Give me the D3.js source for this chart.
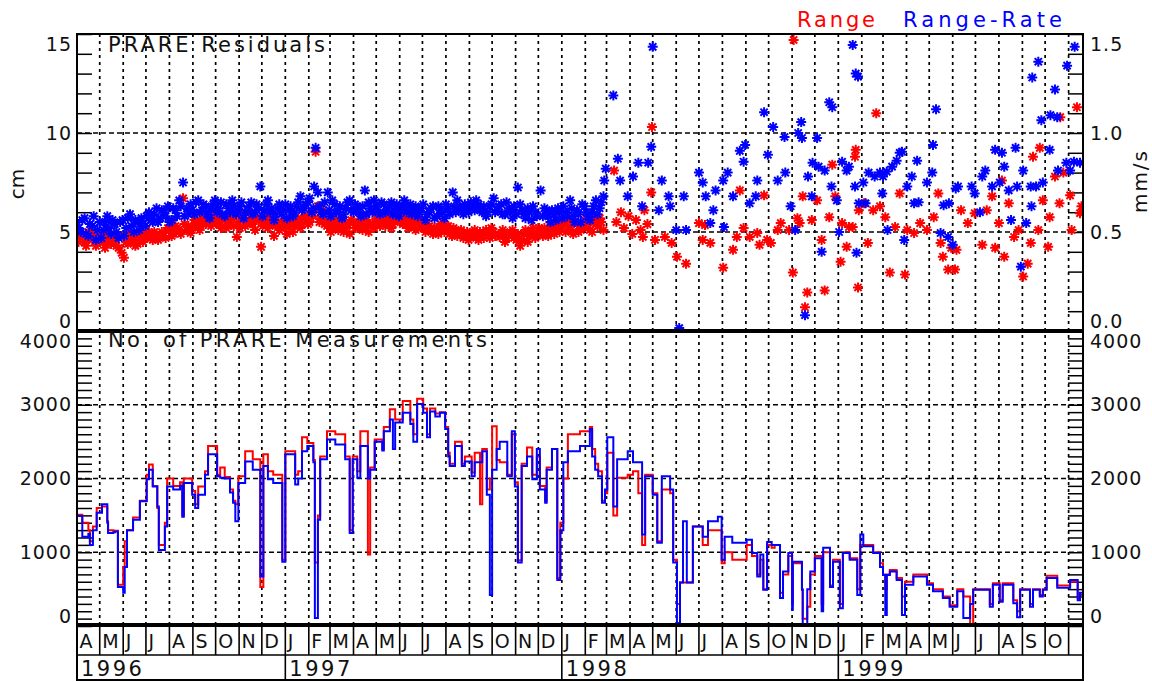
<!DOCTYPE html>
<html>
<head>
<meta charset="utf-8">
<script src="https://cdn.jsdelivr.net/npm/d3@7"></script>
<style>
  body { margin: 0; background: #fff; }
  text { font-family: "DejaVu Sans", sans-serif; fill: #111; }
</style>
</head>
<body>
<svg id="chart" width="1152" height="682"></svg>
<script>
// ---- time span and labels ----
const spanStart = Date.UTC(1996, 3, 1);
const spanEnd = Date.UTC(1999, 10, 20);
const monthLetters = ["J","F","M","A","M","J","J","A","S","O","N","D"];
const cmLabelTicks = [0, 5, 10, 15];
const rateLabelTicks = [0, 0.5, 1.0, 1.5];
const countLabelTicks = [0, 1000, 2000, 3000, 4000];
const cmGrid = [5, 10];
const countGrid = [1000, 2000, 3000];

// ---- residuals: [day since 1996-04-01, value] ----
// Range residuals, cm
const rangeResiduals = [
[0,4.7],[5,4.9],[10,4.5],[15,5.0],[20,4.6],[25,4.3],[30,4.8],[35,4.5],[40,4.9],[45,4.4],
[50,4.7],[55,4.2],[59,3.95],[62,3.7],[65,4.5],[70,4.9],[75,4.6],[80,4.4],[85,4.9],[90,4.7],
[95,5.0],[100,4.6],[105,4.9],[110,4.75],[115,4.8],[120,5.2],[125,4.8],[130,5.3],[135,5.0],[140,6.7],
[142,5.4],[145,5.1],[150,4.95],[155,5.6],[160,5.3],[165,5.7],[170,5.4],[175,5.9],[180,5.5],[185,5.8],
[190,5.2],[195,5.6],[200,5.3],[205,5.8],[211,4.75],[215,5.2],[220,5.7],[225,5.4],[230,5.9],[235,5.1],
[240,5.6],[243,4.25],[245,5.3],[250,5.7],[255,5.4],[260,4.8],[265,5.5],[270,5.2],[277,4.9],[280,5.3],
[285,5.0],[290,5.5],[295,5.2],[300,5.7],[305,5.4],[310,6.0],[315,9.05],[318,6.3],[320,5.5],[325,6.1],
[330,5.3],[335,5.0],[340,5.4],[345,5.1],[350,5.6],[355,5.2],[360,4.9],[365,5.5],[370,5.2],[375,5.6],
[380,5.3],[385,5.0],[390,5.4],[395,5.7],[400,5.3],[405,5.8],[410,5.5],[415,5.2],[420,5.6],[425,5.9],
[430,5.4],[435,5.7],[440,5.3],[445,5.6],[450,5.2],[455,5.5],[460,5.0],[465,5.3],[470,4.9],[475,5.2],
[480,5.4],[485,5.0],[490,5.3],[495,4.8],[500,5.1],[505,4.9],[510,4.7],[515,5.0],[520,4.8],[525,5.1],
[530,4.6],[535,4.9],[540,5.1],[545,4.7],[550,5.0],[558,4.75],[560,4.9],[565,4.5],[570,4.8],[575,5.1],
[580,4.6],[585,4.3],[590,4.9],[595,4.5],[600,5.0],[605,4.7],[610,5.2],[615,4.8],[620,5.0],[625,5.3],
[630,4.9],[635,5.2],[640,5.5],[645,5.0],[650,5.3],[655,4.9],[660,5.4],[665,5.1],[670,5.6],[675,5.2],
[680,5.0],[685,5.4],[690,5.7],[695,5.1],
[2,4.5],[7,4.8],[12,4.3],[17,4.7],[22,4.9],[27,4.5],[32,4.6],[37,4.2],[42,4.7],[47,4.5],
[52,4.3],[57,4.8],[67,4.4],[72,4.7],[77,4.3],[82,4.8],[87,4.5],[92,4.9],[97,4.7],[102,5.0],
[107,4.6],[112,5.0],[117,4.7],[122,5.1],[127,4.9],[132,5.2],[137,4.9],[147,5.3],[152,5.2],[157,5.5],
[162,5.1],[167,5.4],[172,5.6],[177,5.3],[182,5.7],[187,5.4],[192,5.7],[197,5.2],[202,5.6],[207,5.3],
[213,5.5],[217,5.8],[222,5.3],[227,5.6],[232,5.4],[237,5.7],[247,5.5],[252,5.2],[257,5.6],[262,5.3],
[267,5.1],[272,5.5],[275,5.3],[282,5.6],[287,5.3],[292,5.7],[297,5.4],[302,5.8],[307,5.5],[312,5.8],
[322,5.7],[327,5.4],[332,5.6],[337,5.2],[342,5.6],[347,5.3],[352,5.0],[357,5.4],[362,5.6],[367,5.2],
[372,5.5],[377,5.1],[382,5.6],[387,5.4],[392,5.2],[397,5.5],[402,5.6],[407,5.3],[412,5.7],[417,5.4],
[422,5.8],[427,5.5],[432,5.6],[437,5.2],[442,5.5],[447,5.1],[452,5.4],[457,5.2],[462,5.4],[467,5.1],
[472,5.2],[477,4.9],[482,5.1],[487,5.3],[492,4.9],[497,5.2],[502,4.8],[507,5.1],[512,4.9],[517,4.6],
[522,5.0],[527,4.7],[532,5.0],[537,4.7],[542,4.9],[547,5.2],[552,4.8],[562,5.1],[567,4.7],[572,5.0],
[577,4.7],[582,4.9],[587,4.6],[592,5.1],[597,4.8],[602,5.2],[607,4.9],[612,5.0],[617,5.2],[622,4.8],
[627,5.1],[632,5.4],[637,5.0],[642,5.3],[647,5.6],[652,5.1],[657,5.5],[662,5.0],[667,5.3],[672,5.5],
[677,5.1],[682,5.6],[687,5.3],[692,5.5],
[709,8.1],[712,5.5],[718,6.0],[722,5.2],[728,5.8],[733,4.9],[738,5.6],[744,5.1],[747,4.75],[749,6.1],
[753,5.4],[758,7.0],[759,10.3],[763,4.6],[776,4.75],[785,4.45],[792,3.75],[804,3.4],[821,5.45],[826,4.6],
[829,5.35],[836,4.45],[853,3.2],[866,4.1],[871,4.75],[875,7.1],[880,5.2],[888,4.75],[898,4.95],[901,4.35],
[907,6.85],[911,4.6],[916,4.45],[925,5.1],[929,5.45],[940,5.1],[945,2.95],[946,14.7],[951,5.7],[954,5.45],
[958,6.8],[961,1.2],[964,1.95],[970,5.6],[977,6.6],[983,4.6],[987,2.05],[993,5.75],[997,8.4],[1001,6.8],
[1008,3.5],[1010,5.45],[1016,4.25],[1019,5.25],[1024,5.25],[1027,8.8],[1028,9.15],[1031,2.2],[1032,6.1],[1039,6.45],
[1044,4.45],[1051,6.1],[1055,11.0],[1060,6.3],[1067,5.75],[1073,2.95],[1080,5.25],[1086,6.95],[1093,2.85],[1096,5.1],
[1105,4.95],[1113,5.45],[1122,5.1],[1131,5.75],[1137,6.95],[1140,4.45],[1143,3.75],[1150,3.1],[1154,4.2],[1159,3.1],
[1161,4.1],[1167,6.1],[1176,5.45],[1185,5.95],[1195,4.35],[1201,6.1],[1208,6.8],[1212,4.2],[1217,5.45],[1221,7.6],
[1224,3.75],[1230,6.45],[1237,4.75],[1243,5.1],[1249,2.75],[1255,3.4],[1259,4.45],[1262,8.8],[1269,5.1],[1271,9.25],
[1275,6.6],[1282,4.25],[1284,5.75],[1291,7.8],[1297,6.45],[1298,10.8],[1302,8.0],[1311,6.85],[1313,5.1],[1320,11.3],
[1324,5.95],[1326,6.3]
];

// Range-rate residuals, mm/s
const rateResiduals = [
[0,.55],[5,.50],[10,.57],[15,.48],[20,.53],[25,.46],[30,.55],[35,.51],[40,.58],[45,.49],
[50,.54],[55,.47],[60,.56],[65,.52],[70,.59],[75,.50],[80,.55],[85,.57],[90,.53],[95,.60],
[100,.55],[105,.62],[110,.57],[115,.60],[120,.63],[125,.56],[130,.61],[135,.66],[140,.75],[142,.58],
[145,.62],[150,.64],[155,.59],[160,.66],[165,.61],[170,.63],[175,.57],[180,.64],[185,.60],[190,.65],
[195,.58],[200,.62],[205,.66],[210,.59],[215,.63],[220,.57],[225,.61],[230,.65],[235,.60],[240,.62],
[242,.73],[245,.58],[250,.64],[255,.60],[260,.56],[265,.62],[270,.59],[275,.64],[280,.61],[285,.58],
[290,.63],[295,.68],[300,.62],[305,.65],[310,.60],[313,.73],[315,.925],[318,.70],[320,.63],[325,.59],
[331,.70],[335,.58],[340,.64],[345,.60],[350,.57],[355,.62],[360,.66],[365,.60],[370,.63],[375,.58],
[380,.71],[385,.65],[390,.60],[395,.63],[400,.59],[405,.64],[410,.61],[415,.65],[420,.62],[425,.58],
[430,.63],[435,.60],[440,.64],[445,.61],[450,.58],[455,.62],[460,.56],[465,.60],[470,.63],[475,.58],
[480,.61],[485,.57],[490,.62],[496,.70],[500,.60],[505,.63],[510,.59],[515,.62],[520,.65],[525,.61],
[530,.64],[535,.60],[540,.58],[545,.63],[550,.67],[555,.61],[560,.64],[565,.59],[570,.62],[575,.57],
[582,.725],[585,.64],[590,.59],[595,.62],[600,.56],[605,.60],[612,.71],[615,.58],[620,.61],[625,.55],
[630,.59],[635,.62],[640,.57],[645,.60],[651,.66],[655,.58],[660,.61],[665,.55],[670,.63],[675,.58],
[680,.60],[685,.66],[690,.62],[695,.68],
[2,.52],[7,.56],[12,.49],[17,.54],[22,.58],[27,.51],[32,.47],[37,.55],[42,.52],[47,.56],
[52,.50],[57,.55],[62,.48],[67,.57],[72,.53],[77,.56],[82,.51],[87,.54],[92,.58],[97,.56],
[102,.59],[107,.55],[112,.61],[117,.58],[122,.55],[127,.62],[132,.58],[137,.63],[147,.59],[152,.61],
[157,.65],[162,.60],[167,.64],[172,.59],[177,.62],[182,.66],[187,.62],[192,.59],[197,.64],[202,.60],
[207,.63],[212,.61],[217,.65],[222,.60],[227,.63],[232,.59],[237,.64],[247,.61],[252,.66],[257,.62],
[262,.59],[267,.64],[272,.61],[277,.57],[282,.63],[287,.60],[292,.65],[297,.61],[302,.64],[307,.67],
[312,.62],[322,.60],[327,.65],[333,.61],[337,.66],[342,.60],[347,.63],[352,.59],[357,.65],[362,.61],
[367,.64],[372,.60],[377,.63],[382,.59],[387,.62],[392,.66],[397,.61],[402,.65],[407,.60],[412,.63],
[417,.59],[422,.64],[427,.61],[432,.66],[437,.62],[442,.59],[447,.63],[452,.60],[457,.64],[462,.59],
[467,.62],[472,.57],[477,.63],[482,.60],[487,.64],[492,.59],[498,.63],[502,.66],[507,.61],[512,.64],
[517,.60],[522,.63],[527,.66],[532,.61],[537,.63],[542,.60],[547,.64],[552,.60],[557,.63],[562,.59],
[567,.65],[572,.60],[577,.63],[580,.59],[587,.61],[592,.57],[597,.60],[602,.63],[607,.58],[617,.62],
[622,.58],[627,.61],[632,.56],[637,.60],[642,.63],[647,.58],[653,.62],[657,.55],[662,.59],[667,.64],
[672,.60],[677,.56],[682,.63],[687,.59],[692,.65],
[696,.76],[698,.82],[708,1.19],[714,.87],[717,.76],[727,.68],[734,.78],[741,.85],[746,.63],[754,.85],
[758,.93],[760,1.435],[768,.61],[772,.76],[781,.68],[783,.63],[791,.51],[795,.015],[801,.68],[804,.51],
[821,.80],[826,.75],[830,.68],[836,.545],[840,.61],[843,.71],[853,.76],[854,.525],[859,.80],[866,.68],
[875,.91],[880,.855],[882,.94],[888,.645],[896,.68],[898,.76],[907,1.105],[912,.89],[919,1.03],[925,.76],
[934,.98],[935,.80],[942,.63],[948,.51],[952,1.00],[956,1.055],[957,.975],[961,.08],[965,.78],[970,.68],
[971,.85],[977,.975],[979,.83],[983,.40],[987,.81],[993,1.155],[996,.73],[997,1.13],[1003,.66],[1006,.50],
[1010,.855],[1016,.81],[1019,.83],[1024,1.445],[1027,.73],[1028,1.30],[1029,.395],[1031,1.285],[1032,.645],[1038,.75],
[1041,.645],[1045,.80],[1053,.78],[1060,.80],[1063,.695],[1064,.78],[1069,.805],[1070,.51],[1076,.83],[1082,.86],
[1086,.90],[1089,.905],[1092,.46],[1096,.73],[1102,.78],[1105,.645],[1109,.86],[1111,.65],[1122,.75],[1129,.80],
[1130,.94],[1134,1.12],[1140,.495],[1144,.635],[1150,.475],[1151,.645],[1156,.435],[1160,.72],[1163,.73],[1181,.73],
[1185,.695],[1192,.60],[1195,.78],[1199,.81],[1208,.73],[1212,.915],[1218,.75],[1221,.90],[1224,.83],[1230,.71],
[1233,.56],[1239,.925],[1241,.73],[1246,.325],[1249,.81],[1253,.545],[1259,.73],[1260,.63],[1261,1.28],[1266,.73],
[1269,1.36],[1273,1.065],[1275,.75],[1284,.915],[1285,1.09],[1291,1.22],[1294,1.08],[1295,.81],[1306,.85],[1307,1.34],
[1311,.81],[1316,.855],[1317,1.435],[1324,.85]
];

// ---- daily measurement counts (step values starting at each day) ----
const countDays = [
0,7,15,17,21,26,33,40,41,48,
50,54,61,63,66,74,83,92,95,100,
106,108,116,119,127,136,139,141,152,156,
160,169,173,185,189,195,202,206,209,213,
222,232,242,246,252,259,271,275,288,292,
297,304,312,314,318,321,330,341,354,360,
364,370,374,384,387,393,403,405,413,417,
420,430,440,444,449,457,462,466,473,479,
486,490,492,499,508,512,521,525,532,535,
541,545,548,554,558,568,574,578,582,587,
594,601,607,611,618,620,627,634,638,642,
648,664,677,680,684,688,693,697,700,708,
713,727,734,741,746,750,760,766,772,783,
787,792,796,800,805,813,826,833,846,851,
855,865,873,884,891,898,902,906,911,917,
921,928,932,939,944,945,957,958,964,968,
974,983,985,994,998,1007,1011,1020,1030,1034,
1038,1051,1060,1064,1067,1069,1073,1082,1089,1093,
1104,1122,1130,1143,1152,1162,1170,1179,1183,1205,
1209,1218,1222,1236,1241,1245,1258,1262,1271,1275,
1280,1294,1311,1321,1324
];
const rateCounts = [
1490,1210,1250,1100,1300,1535,1650,1400,1260,1270,
1280,530,450,800,1300,1440,1690,1990,2120,1890,
1620,1030,1350,1890,1850,1900,1480,1940,1780,1600,
1780,2050,2330,2030,2010,2000,1810,1670,1420,1940,
2230,2120,670,2170,1990,1940,870,2330,1920,2000,
2370,2440,2220,110,1440,2260,2530,2460,2260,1260,
2260,2010,2440,2000,2120,2500,2380,2640,2800,2400,
2760,2890,2740,2500,3010,2890,2560,2910,2840,2890,
2670,2300,2170,2440,2170,2230,2030,2220,2220,2370,
1780,420,2120,2400,2500,2030,2640,1890,860,2170,
2300,1990,2400,1850,1670,2120,2400,625,1300,2220,
2370,2440,2670,2300,2120,2030,1670,1850,2560,1620,
2260,2370,2220,2220,1240,2030,1780,1130,2030,1850,
860,40,590,1420,590,1350,1210,1420,1480,900,
1210,1130,1130,1170,990,670,970,490,1140,1100,
1100,380,740,990,220,870,490,20,500,740,
920,200,1060,530,870,240,990,900,420,1240,
1080,990,800,690,150,690,740,625,150,560,
670,560,470,380,260,470,110,300,490,260,
560,330,560,310,120,490,260,490,400,490,
650,520,625,350,450
];
const rangeCounts = [
1510,1400,1300,1150,1350,1600,1620,1420,1300,1290,
1290,560,800,1150,1300,1470,1700,2050,2190,1900,
1600,1100,1400,2000,1900,1950,1500,2000,1830,1650,
1890,2100,2440,2050,2150,2020,1850,1700,1650,2030,
2370,2260,530,2330,2100,2050,900,2370,2050,2100,
2560,2480,2250,860,1500,2300,2640,2600,2300,1300,
2300,2100,2640,970,2150,2530,2400,2700,2940,2940,
2800,3050,2800,2600,3080,2950,2600,2950,2880,2900,
2700,2350,2200,2500,2200,2300,2080,2350,1650,2400,
1850,2000,2710,2250,2220,2050,2600,1950,890,2200,
2420,2050,2300,1900,1700,2150,2400,650,1400,2000,
2600,2640,2700,2400,2200,2100,1700,1800,2350,1500,
2010,2050,2100,1800,1100,2050,1800,1150,1850,1800,
900,300,590,590,590,1350,1100,1300,1300,850,
1000,900,900,1100,950,700,900,500,1100,1060,
1100,450,700,950,300,850,500,100,260,700,
950,300,1000,550,900,300,1000,920,500,1100,
1100,1000,850,700,500,700,760,650,400,600,
700,580,500,400,280,500,400,20,500,300,
580,350,580,350,200,500,300,500,420,500,
680,550,600,380,420
];

// ---- layout ----
const L = 77, R = 1083;            // plot left / right
const T1 = 34, MID = 331, B2 = 626; // top panel top, panel divider, bottom panel base
const MB = 655, YB = 681;          // month band bottom, year band bottom
const ink = "#000";
const red = "#ff0000", blue = "#0000ff";

const svg = d3.select("#chart");
const dayMs = 864e5;
const toDate = d => new Date(spanStart + d * dayMs);

const x = d3.scaleUtc().domain([new Date(spanStart), new Date(spanEnd)]).range([L, R]);
const yCm = d3.scaleLinear().domain([0, 15]).range([MID, T1]);
const yRate = d3.scaleLinear().domain([0, 1.5]).range([MID, T1]);
const yCnt = d3.scaleLinear().domain([0, 4000]).range([B2, MID]);

const defs = svg.append("defs");
defs.append("clipPath").attr("id", "clipTop").append("rect")
  .attr("x", L).attr("y", T1).attr("width", R - L).attr("height", MID - T1);
defs.append("clipPath").attr("id", "clipBot").append("rect")
  .attr("x", L).attr("y", MID).attr("width", R - L).attr("height", B2 - MID);

// ---- month gridlines (dotted) ----
const months = d3.utcMonth.range(new Date(spanStart), new Date(spanEnd));
svg.append("g").selectAll("line")
  .data(months.filter(m => +m > spanStart))
  .join("line")
  .attr("x1", d => x(d)).attr("x2", d => x(d))
  .attr("y1", T1).attr("y2", B2)
  .attr("stroke", ink).attr("stroke-width", 1.7).attr("stroke-dasharray", "3,4");

// ---- value gridlines (dashed) ----
const hg = svg.append("g").attr("stroke", ink).attr("stroke-width", 1.4).attr("stroke-dasharray", "5,3");
hg.selectAll("line.cm").data(cmGrid).join("line").attr("class", "cm")
  .attr("x1", L).attr("x2", R).attr("y1", d => yCm(d)).attr("y2", d => yCm(d));
hg.selectAll("line.cnt").data(countGrid).join("line").attr("class", "cnt")
  .attr("x1", L).attr("x2", R).attr("y1", d => yCnt(d)).attr("y2", d => yCnt(d));

// ---- inward minor ticks ----
function minorTicks(axis, xpos) {
  svg.append("g").attr("transform", `translate(${xpos},0)`)
    .call(axis.tickSize(-15).tickFormat(""))
    .call(g => g.select(".domain").remove())
    .call(g => g.selectAll("line").attr("stroke", ink).attr("stroke-width", 1.5));
}
minorTicks(d3.axisLeft(yCm).tickValues(d3.range(0, 16)), L);
minorTicks(d3.axisRight(yRate).tickValues(d3.range(0, 16).map(i => i / 10)), R);
minorTicks(d3.axisLeft(yCnt).tickValues(d3.range(0, 4001, 100)), L);
minorTicks(d3.axisRight(yCnt).tickValues(d3.range(0, 4001, 100)), R);

// ---- tick labels (end labels nudged into their own panel) ----
function tickLabels(axis, xpos, vals, fmt, maxVal) {
  svg.append("g").attr("transform", `translate(${xpos},0)`)
    .call(axis.tickValues(vals).tickSize(0).tickPadding(xpos === L ? 5 : 7).tickFormat(fmt))
    .call(g => g.select(".domain").remove())
    .call(g => g.selectAll("text")
      .attr("font-family", "DejaVu Sans").attr("font-size", 19)
      .style("letter-spacing", "1px").attr("fill", "#111")
      .attr("y", d => d === maxVal ? 10 : d === 0 ? -10 : 0));
}
tickLabels(d3.axisLeft(yCm), L, cmLabelTicks, d3.format("d"), 15);
tickLabels(d3.axisRight(yRate), R, rateLabelTicks, d3.format(".1f"), 1.5);
tickLabels(d3.axisLeft(yCnt), L, countLabelTicks, d3.format("d"), 4000);
tickLabels(d3.axisRight(yCnt), R, countLabelTicks, d3.format("d"), 4000);

// ---- measurement counts (histogram-style steps) ----
const stepLine = d3.line()
  .x(d => x(toDate(d[0]))).y(d => yCnt(d[1]))
  .curve(d3.curveStepAfter);
function stepSeries(vals) {
  const pts = countDays.map((d, i) => [d, vals[i]]);
  pts.push([(spanEnd - spanStart) / dayMs, vals[vals.length - 1]]);
  return pts;
}
const lowerPanel = svg.append("g").attr("clip-path", "url(#clipBot)");
lowerPanel.append("path").datum(stepSeries(rangeCounts)).attr("d", stepLine)
  .attr("fill", "none").attr("stroke", red).attr("stroke-width", 2);
lowerPanel.append("path").datum(stepSeries(rateCounts)).attr("d", stepLine)
  .attr("fill", "none").attr("stroke", blue).attr("stroke-width", 2);

// ---- residual asterisks ----
const star = "M-5,0H5M0,-5V5M-3.6,-3.6L3.6,3.6M-3.6,3.6L3.6,-3.6";
const upperPanel = svg.append("g").attr("clip-path", "url(#clipTop)");
upperPanel.append("g").selectAll("path").data(rangeResiduals).join("path")
  .attr("d", star)
  .attr("transform", d => `translate(${x(toDate(d[0]))},${yCm(d[1])})`)
  .attr("stroke", red).attr("stroke-width", 2).attr("fill", "none");
upperPanel.append("g").selectAll("path").data(rateResiduals).join("path")
  .attr("d", star)
  .attr("transform", d => `translate(${x(toDate(d[0]))},${yRate(d[1])})`)
  .attr("stroke", blue).attr("stroke-width", 2).attr("fill", "none");

// ---- frame ----
const frame = svg.append("g").attr("stroke", ink).attr("fill", "none");
frame.append("line").attr("x1", L - 1).attr("x2", R + 1).attr("y1", T1).attr("y2", T1).attr("stroke-width", 2);
frame.append("line").attr("x1", L).attr("x2", L).attr("y1", T1).attr("y2", YB).attr("stroke-width", 2);
frame.append("line").attr("x1", R).attr("x2", R).attr("y1", T1).attr("y2", YB).attr("stroke-width", 2);
frame.append("line").attr("x1", L).attr("x2", R).attr("y1", MID).attr("y2", MID).attr("stroke-width", 4);
frame.append("line").attr("x1", L).attr("x2", R).attr("y1", B2 - 1).attr("y2", B2 - 1).attr("stroke-width", 4);
frame.append("line").attr("x1", L).attr("x2", R).attr("y1", MB).attr("y2", MB).attr("stroke-width", 1.6);
frame.append("line").attr("x1", L - 1).attr("x2", R + 1).attr("y1", YB - 1).attr("y2", YB - 1).attr("stroke-width", 2);

// month band
frame.append("g").selectAll("line").data(months).join("line")
  .attr("x1", d => x(d)).attr("x2", d => x(d)).attr("y1", B2).attr("y2", MB).attr("stroke-width", 1.6);
svg.append("g").selectAll("text")
  .data(months.filter(m => +d3.utcMonth.offset(m, 1) <= spanEnd))
  .join("text")
  .attr("x", d => x(d) + 2.5).attr("y", 648)
  .attr("font-size", 19)
  .text(d => monthLetters[d.getUTCMonth()]);

// year band
const years = [new Date(spanStart)].concat(d3.utcYear.range(new Date(spanStart), new Date(spanEnd)));
frame.append("g").selectAll("line").data(years.slice(1)).join("line")
  .attr("x1", d => x(d)).attr("x2", d => x(d)).attr("y1", MB).attr("y2", YB).attr("stroke-width", 1.6);
svg.append("g").selectAll("text").data(years).join("text")
  .attr("x", d => x(d) + 4).attr("y", 676)
  .attr("font-size", 21).style("letter-spacing", "2.5px")
  .text(d3.utcFormat("%Y"));

// ---- titles, axis names, legend ----
svg.append("text").attr("x", 108).attr("y", 52).attr("font-size", 21)
  .attr("textLength", 217).attr("lengthAdjust", "spacing").text("PRARE Residuals");
svg.append("text").attr("x", 108).attr("y", 347).attr("font-size", 21)
  .attr("textLength", 379).attr("lengthAdjust", "spacing").text("No. of PRARE Measurements");
svg.append("text").attr("transform", "translate(24,184) rotate(-90)")
  .attr("text-anchor", "middle").attr("font-size", 20).text("cm");
svg.append("text").attr("transform", "translate(1147,182) rotate(-90)")
  .attr("text-anchor", "middle").attr("font-size", 20).attr("textLength", 62).attr("lengthAdjust", "spacing").text("mm/s");
svg.append("text").attr("x", 797).attr("y", 27).attr("font-size", 21)
  .attr("textLength", 78).attr("lengthAdjust", "spacing").style("fill", red).text("Range");
svg.append("text").attr("x", 903).attr("y", 27).attr("font-size", 21)
  .attr("textLength", 159).attr("lengthAdjust", "spacing").style("fill", blue).text("Range-Rate");
</script>
</body>
</html>
